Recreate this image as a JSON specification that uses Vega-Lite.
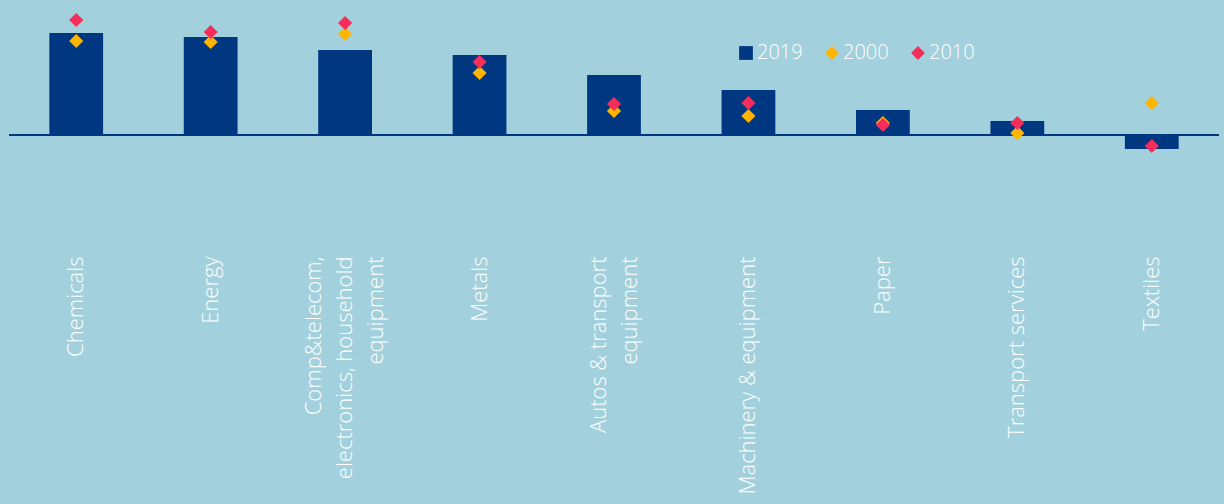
{
  "$schema": "https://vega.github.io/schema/vega-lite/v6.json",
  "width": 1210,
  "height": 150,
  "autosize": {"type": "none"},
  "padding": {"left": 9, "top": 0, "right": 5, "bottom": 354},
  "background": "#a2d1dd",
  "config": {"view": {"stroke": null}, "font": "Open Sans"},
  "data": {
    "values": [
      {"sector": "Chemicals", "series": "2019", "value": 10.2},
      {"sector": "Energy", "series": "2019", "value": 9.8},
      {"sector": "Comp&telecom,|electronics, household|equipment", "series": "2019", "value": 8.5},
      {"sector": "Metals", "series": "2019", "value": 8.0},
      {"sector": "Autos & transport|equipment", "series": "2019", "value": 6.0},
      {"sector": "Machinery & equipment", "series": "2019", "value": 4.5},
      {"sector": "Paper", "series": "2019", "value": 2.5},
      {"sector": "Transport services", "series": "2019", "value": 1.4},
      {"sector": "Textiles", "series": "2019", "value": -1.4},
      {"sector": "Chemicals", "series": "2000", "value": 9.4},
      {"sector": "Energy", "series": "2000", "value": 9.3},
      {"sector": "Comp&telecom,|electronics, household|equipment", "series": "2000", "value": 10.1},
      {"sector": "Metals", "series": "2000", "value": 6.2},
      {"sector": "Autos & transport|equipment", "series": "2000", "value": 2.4},
      {"sector": "Machinery & equipment", "series": "2000", "value": 1.9},
      {"sector": "Paper", "series": "2000", "value": 1.2},
      {"sector": "Transport services", "series": "2000", "value": 0.2},
      {"sector": "Textiles", "series": "2000", "value": 3.2},
      {"sector": "Chemicals", "series": "2010", "value": 11.5},
      {"sector": "Energy", "series": "2010", "value": 10.3},
      {"sector": "Comp&telecom,|electronics, household|equipment", "series": "2010", "value": 11.2},
      {"sector": "Metals", "series": "2010", "value": 7.3},
      {"sector": "Autos & transport|equipment", "series": "2010", "value": 3.1},
      {"sector": "Machinery & equipment", "series": "2010", "value": 3.2},
      {"sector": "Paper", "series": "2010", "value": 1.0},
      {"sector": "Transport services", "series": "2010", "value": 1.2},
      {"sector": "Textiles", "series": "2010", "value": -1.1}
    ]
  },
  "layer": [
    {
      "transform": [{"filter": "datum.series == '2019'"}],
      "mark": {"type": "bar", "color": "#003781"},
      "encoding": {
        "x": {
          "field": "sector", "type": "nominal", "sort": null,
          "scale": {"paddingInner": 0.6, "paddingOuter": 0.3},
          "axis": {
            "orient": "bottom", "title": null, "ticks": false, "domain": false,
            "labelAngle": 270, "labelAlign": "right", "labelBaseline": "middle",
            "labelPadding": 106, "labelColor": "white", "labelFontSize": 22,
            "labelFont": "Open Sans", "labelFontWeight": 300, "labelLineHeight": 31, "labelLimit": 400,
            "labelOffset": {"condition": [{"test": "indexof(datum.value, 'Comp') == 0", "value": -31}, {"test": "indexof(datum.value, 'Autos') == 0", "value": -15}], "value": 0},
            "labelExpr": "split(datum.label, '|')"
          }
        },
        "y": {"field": "value", "type": "quantitative", "scale": {"domain": [-1.5, 13.5], "nice": false}, "axis": null},
        "color": {
          "field": "series", "type": "nominal",
          "scale": {"domain": ["2019", "2000", "2010"], "range": ["#003781", "#ffb400", "#f52d5a"]},
          "legend": {
            "orient": "none", "legendX": 727, "legendY": 43, "direction": "horizontal",
            "title": null, "labelFontSize": 20, "labelColor": "white", "labelFont": "Open Sans",
            "labelFontWeight": 300,
            "symbolSize": 190, "labelOffset": 1, "columnPadding": 19, "symbolStrokeWidth": 0,
            "symbolOpacity": 1
          }
        }
      }
    },
    {
      "data": {"values": [{"zero": 0}]},
      "mark": {"type": "rule", "color": "#003781", "strokeWidth": 2},
      "encoding": {"y": {"field": "zero", "type": "quantitative"}}
    },
    {
      "transform": [{"filter": "datum.series != '2019'"}],
      "mark": {"type": "point", "filled": true, "size": 200, "opacity": 1},
      "encoding": {
        "x": {
          "field": "sector", "type": "nominal", "sort": null,
          "scale": {"paddingInner": 0.6, "paddingOuter": 0.3},
          "axis": {
            "orient": "bottom", "title": null, "ticks": false, "domain": false,
            "labelAngle": 270, "labelAlign": "right", "labelBaseline": "middle",
            "labelPadding": 106, "labelColor": "white", "labelFontSize": 22,
            "labelFont": "Open Sans", "labelFontWeight": 300, "labelLineHeight": 31, "labelLimit": 400,
            "labelOffset": {"condition": [{"test": "indexof(datum.value, 'Comp') == 0", "value": -31}, {"test": "indexof(datum.value, 'Autos') == 0", "value": -15}], "value": 0},
            "labelExpr": "split(datum.label, '|')"
          }
        },
        "y": {"field": "value", "type": "quantitative"},
        "color": {"field": "series", "type": "nominal"},
        "shape": {
          "field": "series", "type": "nominal",
          "scale": {"domain": ["2019", "2000", "2010"], "range": ["square", "diamond", "diamond"]}
        }
      }
    }
  ]
}
